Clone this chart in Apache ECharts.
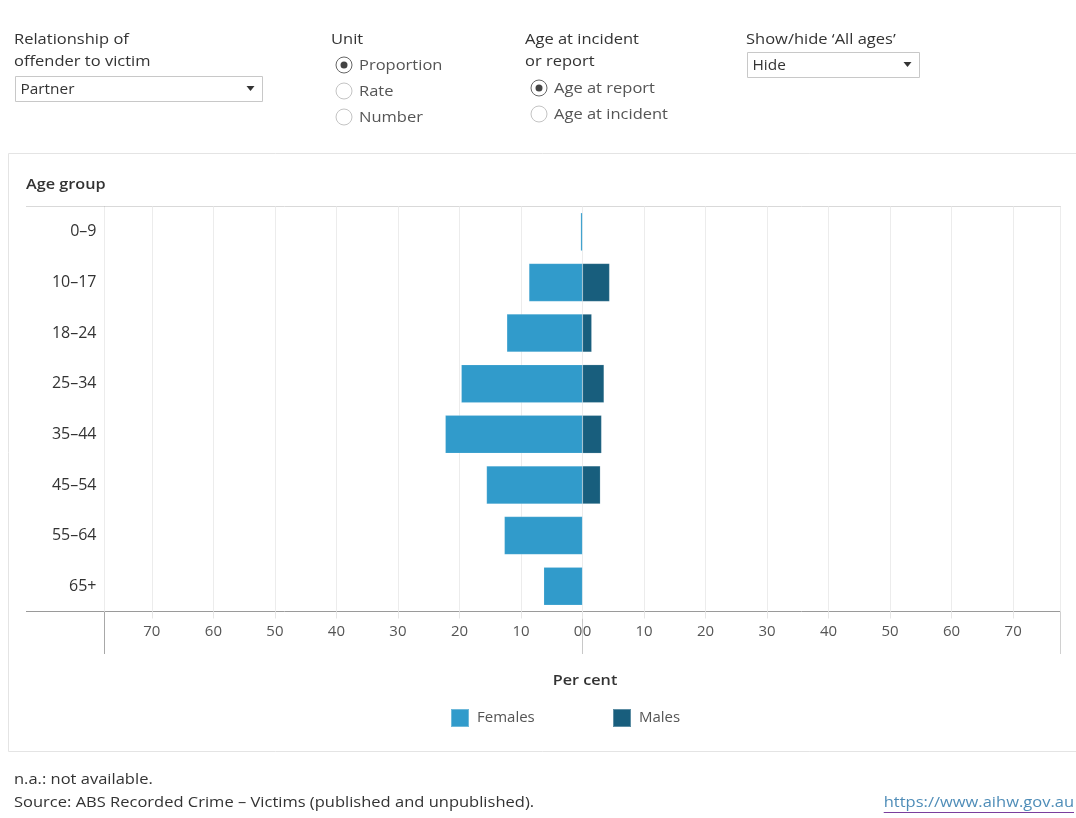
<!DOCTYPE html>
<html>
<head>
<meta charset="utf-8">
<script src="https://cdn.jsdelivr.net/npm/echarts@6/dist/echarts.min.js"></script>
<style>
  html, body { margin: 0; padding: 0; background: #ffffff; }
  #chart { width: 1076px; height: 818px; }
</style>
</head>
<body>
<div id="chart"></div>
<script>
// ---- data ----
const categories = ['0–9', '10–17', '18–24', '25–34', '35–44', '45–54', '55–64', '65+'];
const females = [0.3, 8.7, 12.3, 19.7, 22.3, 15.6, 12.7, 6.3];
const males = [0, 4.4, 1.5, 3.5, 3.1, 2.9, 0, 0];
const seriesNames = ['Females', 'Males'];
const axisMax = 77.7;
const tickStep = 10;

const FONT = '"Open Sans", Lato, sans-serif';
const colF = '#319bcb';
const colM = '#185e7d';
const SX = 1.1;

const chart = echarts.init(document.getElementById('chart'), null, { renderer: 'canvas' });

const measureCtx = document.createElement('canvas').getContext('2d');
function textWidth(s, font) { measureCtx.font = font; return measureCtx.measureText(s).width; }

function txt(x, y, text, opts, sx) {
  return {
    type: 'text', x: x, y: y, silent: true, scaleX: sx || SX, scaleY: 1,
    style: Object.assign({ text: text, fill: '#333', font: '15px ' + FONT, textVerticalAlign: 'middle' }, opts || {})
  };
}
function line(x1, y1, x2, y2, color) {
  return { type: 'line', silent: true, shape: { x1: x1, y1: y1, x2: x2, y2: y2 }, style: { stroke: color, lineWidth: 1 } };
}
function radio(cx, cy, selected) {
  const g = [{ type: 'circle', silent: true, shape: { cx: cx, cy: cy, r: 8 }, style: { fill: '#fff', stroke: selected ? '#666' : '#c4c4c4', lineWidth: 1 } }];
  if (selected) g.push({ type: 'circle', silent: true, shape: { cx: cx, cy: cy, r: 3.5 }, style: { fill: '#444' } });
  return g;
}
function dropdown(x, y, w, h, label) {
  return [
    { type: 'rect', silent: true, shape: { x: x, y: y, width: w, height: h }, style: { fill: '#fff', stroke: '#c8c8c8', lineWidth: 1 } },
    txt(x + 5, y + h / 2 + 1, label, { font: '14px ' + FONT, fill: '#333' }),
    { type: 'polygon', silent: true, shape: { points: [[x + w - 16, y + h / 2 - 3], [x + w - 8, y + h / 2 - 3], [x + w - 12, y + h / 2 + 2]] }, style: { fill: '#333' } }
  ];
}

const linkText = 'https://www.aihw.gov.au';
const linkFont = '15px ' + FONT;
const linkW = textWidth(linkText, linkFont) * SX;

const graphics = [].concat(
  // controls
  [txt(14, 40, 'Relationship of'), txt(14, 62, 'offender to victim')],
  dropdown(15.5, 76.5, 247, 25, 'Partner'),
  [txt(331, 40, 'Unit')],
  radio(344, 65, true), radio(344, 91, false), radio(344, 117, false),
  [txt(359, 66, 'Proportion', { fill: '#555' }), txt(359, 92, 'Rate', { fill: '#555' }), txt(359, 118, 'Number', { fill: '#555' })],
  [txt(525, 40, 'Age at incident'), txt(525, 62, 'or report')],
  radio(539, 88, true), radio(539, 114, false),
  [txt(554, 89, 'Age at report', { fill: '#555' }), txt(554, 115, 'Age at incident', { fill: '#555' })],
  [txt(746, 40, 'Show/hide ‘All ages’')],
  dropdown(747.5, 52.5, 172, 25, 'Hide'),
  // chart container
  [{ type: 'rect', silent: true, shape: { x: 8.5, y: 153.5, width: 1080, height: 598 }, style: { fill: 'none', stroke: '#e4e4e4', lineWidth: 1 } }],
  [txt(26, 185, 'Age group', { font: '600 14px ' + FONT, fill: '#333' }, 1.16)],
  // frame lines
  [line(26, 206.5, 1060, 206.5, '#d9d9d9'),
   line(26, 611.5, 1060, 611.5, '#9a9a9a'),
   line(104.5, 206, 104.5, 654, '#a8a8a8'),
   line(582.5, 206, 582.5, 654, '#c8c8c8'),
   line(1060.5, 206, 1060.5, 654, '#d0d0d0')],
  [txt(585, 681, 'Per cent', { font: '600 15px ' + FONT, fill: '#333', textAlign: 'center' }, 1.08)],
  // footer
  [txt(14, 780, 'n.a.: not available.', { font: '15px ' + FONT, fill: '#333' }),
   txt(14, 803, 'Source: ABS Recorded Crime – Victims (published and unpublished).', { font: '15px ' + FONT, fill: '#333' }),
   txt(1074, 803, linkText, { font: linkFont, fill: '#4f8db8', textAlign: 'right' }),
   line(1074 - linkW, 812.5, 1074, 812.5, '#7a3f9e')]
);

const axisLabelBase = { color: '#555', fontSize: 15, fontFamily: FONT, margin: 13 };
const legendFont = '15px ' + FONT;
const femW = textWidth(seriesNames[0], legendFont);

const option = {
  animation: false,
  backgroundColor: '#ffffff',
  textStyle: { fontFamily: FONT },
  legend: {
    data: seriesNames,
    left: 445, top: 703,
    itemWidth: 18, itemHeight: 18, itemGap: Math.max(10, 612 - (451 + 18 + 8 + femW)),
    icon: 'rect',
    textStyle: { color: '#555', fontSize: 15, fontFamily: FONT, padding: [0, 0, 0, 3] }
  },
  grid: [
    { left: 104.5, right: 1076 - 582.5, top: 206.5, bottom: 818 - 611.5, containLabel: false },
    { left: 582.5, right: 1076 - 1060.5, top: 206.5, bottom: 818 - 611.5, containLabel: false }
  ],
  xAxis: [
    {
      type: 'value', gridIndex: 0, inverse: true, min: 0, max: axisMax, interval: tickStep,
      axisLine: { show: false },
      axisTick: { show: true, length: 7, lineStyle: { color: '#e6e6e6' } },
      splitLine: { show: true, lineStyle: { color: '#ececec' } },
      axisLabel: Object.assign({}, axisLabelBase, {
        showMaxLabel: false,
        formatter: function (v) { return v % tickStep === 0 ? (v === 0 ? '{z|0}' : String(v)) : ''; },
        rich: { z: { color: '#555', fontSize: 15, fontFamily: FONT, padding: [0, 9, 0, 0] } }
      })
    },
    {
      type: 'value', gridIndex: 1, min: 0, max: axisMax, interval: tickStep,
      axisLine: { show: false },
      axisTick: { show: true, length: 7, lineStyle: { color: '#e6e6e6' } },
      splitLine: { show: true, lineStyle: { color: '#ececec' } },
      axisLabel: Object.assign({}, axisLabelBase, {
        showMaxLabel: false,
        formatter: function (v) { return v % tickStep === 0 ? (v === 0 ? '{z|0}' : String(v)) : ''; },
        rich: { z: { color: '#555', fontSize: 15, fontFamily: FONT, padding: [0, 0, 0, 9] } }
      })
    }
  ],
  yAxis: [
    {
      type: 'category', gridIndex: 0, data: categories, inverse: true,
      axisLine: { show: false }, axisTick: { show: false },
      axisLabel: { color: '#333', fontSize: 16, fontFamily: FONT, margin: 8 }
    },
    {
      type: 'category', gridIndex: 1, data: categories, inverse: true,
      axisLine: { show: false }, axisTick: { show: false }, axisLabel: { show: false }
    }
  ],
  series: [
    {
      name: seriesNames[0], type: 'bar', xAxisIndex: 0, yAxisIndex: 0, data: females,
      barWidth: 38,
      itemStyle: { color: colF, borderColor: 'rgba(255,255,255,0.3)', borderWidth: 0.5 }
    },
    {
      name: seriesNames[1], type: 'bar', xAxisIndex: 1, yAxisIndex: 1, data: males,
      barWidth: 38,
      itemStyle: { color: colM, borderColor: 'rgba(255,255,255,0.3)', borderWidth: 0.5 }
    }
  ],
  graphic: graphics
};

chart.setOption(option);
</script>
</body>
</html>
